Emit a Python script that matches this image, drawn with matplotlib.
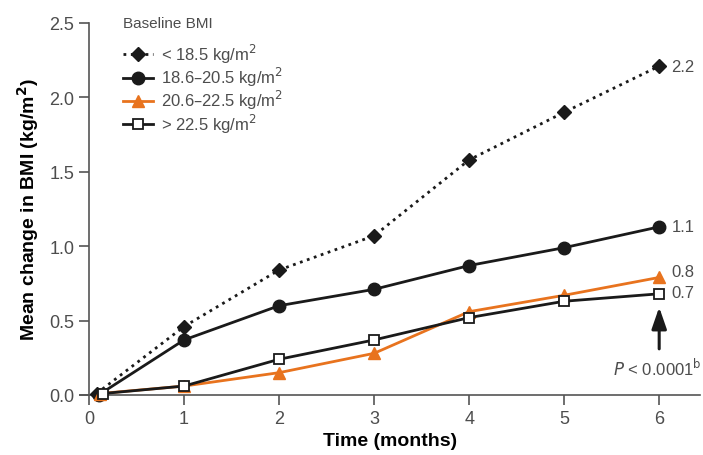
import numpy as np
import matplotlib.pyplot as plt

plt.rcParams['font.family'] = ['Liberation Sans Narrow', 'Liberation Sans', 'DejaVu Sans']

# months (first point slightly offset from zero, as in the figure)
x_lt185 = [0.08, 1, 2, 3, 4, 5, 6]
x_186 = [0.10, 1, 2, 3, 4, 5, 6]
x_206 = [0.12, 1, 2, 3, 4, 5, 6]
x_gt225 = [0.15, 1, 2, 3, 4, 5, 6]

bmi_lt185 = [0.01, 0.46, 0.84, 1.07, 1.58, 1.90, 2.21]
bmi_186 = [0.00, 0.37, 0.60, 0.71, 0.87, 0.99, 1.13]
bmi_206 = [0.01, 0.06, 0.15, 0.28, 0.56, 0.67, 0.79]
bmi_gt225 = [0.01, 0.06, 0.24, 0.37, 0.52, 0.63, 0.68]

end_labels = ['2.2', '1.1', '0.8', '0.7']
names = ['< 18.5 kg/m$^2$', '18.6\u201320.5 kg/m$^2$',
         '20.6\u201322.5 kg/m$^2$', '> 22.5 kg/m$^2$']

orange = '#e8731e'
grey = '#4d4d4d'

fig = plt.figure(figsize=(7.03, 4.56), dpi=100)
ax = fig.add_axes([0.1138, 0.1316, 0.882, 0.8158])

ax.plot(x_lt185, bmi_lt185, ls=':', lw=2, color='#1a1a1a', marker='D', ms=7,
        label=names[0], clip_on=False, zorder=3)
ax.plot(x_186, bmi_186, ls='-', lw=2, color='#1a1a1a', marker='o', ms=9,
        label=names[1], clip_on=False, zorder=3)
ax.plot(x_206, bmi_206, ls='-', lw=2, color=orange, marker='^', ms=9,
        label=names[2], clip_on=False, zorder=3)
ax.plot(x_gt225, bmi_gt225, ls='-', lw=2, color='#1a1a1a', marker='s', ms=7,
        mfc='white', mec='#1a1a1a', mew=1.3, label=names[3], clip_on=False, zorder=4)

# end-point labels
ends = [bmi_lt185[-1], bmi_186[-1], bmi_206[-1] + 0.04, bmi_gt225[-1] + 0.01]
for val, txt in zip(ends, end_labels):
    ax.text(6.13, val, txt, fontsize=12, color=grey, va='center', ha='left')

ax.annotate('', xy=(6, 0.59), xytext=(6, 0.31),
            arrowprops=dict(arrowstyle='-|>,head_width=0.45,head_length=1.3',
                            color='#1a1a1a', lw=2.2, shrinkA=0, shrinkB=0))
ax.text(6.45, 0.19, r'$\it{P}$ < 0.0001$^{\mathrm{b}}$', fontsize=12, color=grey,
        ha='right', va='center')

ax.set_xlim(-0.095, 6.43)
ax.set_ylim(0, 2.5)
ax.set_xticks(range(0, 7))
ax.set_yticks([0.0, 0.5, 1.0, 1.5, 2.0, 2.5])
ax.set_yticklabels(['0.0', '0.5', '1.0', '1.5', '2.0', '2.5'])

ax.spines['top'].set_visible(False)
ax.spines['right'].set_visible(False)
ax.spines['left'].set_position(('data', 0))
for s in ['left', 'bottom']:
    ax.spines[s].set_color('#555555')
    ax.spines[s].set_linewidth(1.2)
ax.tick_params(direction='out', length=7, width=1.2, color='#555555',
               labelsize=13, labelcolor=grey)

ax.set_xlabel('Time (months)', fontsize=14, fontweight='bold', labelpad=4)
ax.set_ylabel('Mean change in BMI (kg/m$^\\mathbf{2}$)', fontsize=14, fontweight='bold',
              labelpad=6)

leg = ax.legend(loc='upper left', bbox_to_anchor=(0.045, 1.06), frameon=False,
                title='Baseline BMI', fontsize=12, title_fontsize=11,
                handlelength=1.8, handletextpad=0.5, labelspacing=0.0,
                labelcolor=grey)
leg._legend_box.align = 'left'
leg._legend_box.sep = 9
leg.get_title().set_color(grey)

fig.savefig('out.png', dpi=100)
